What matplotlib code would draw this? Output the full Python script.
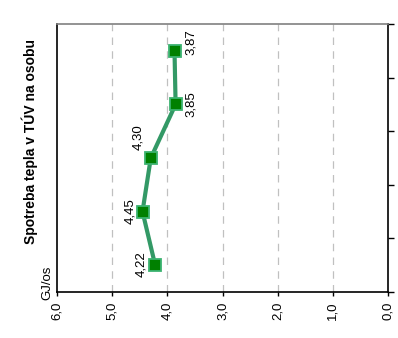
import numpy as np
import matplotlib
matplotlib.use('Agg')
import matplotlib.pyplot as plt

plt.rcParams['font.family'] = ['Liberation Sans', 'DejaVu Sans']

# data (bottom to top)
values = [4.22, 4.45, 4.30, 3.85, 3.87]
value_labels = ['4,22', '4,45', '4,30', '3,85', '3,87']
x_ticks = [0, 1, 2, 3, 4, 5, 6]
x_ticklabels = ['0,0', '1,0', '2,0', '3,0', '4,0', '5,0', '6,0']

pos = np.arange(len(values))

fig = plt.figure(figsize=(3.98, 3.38), dpi=100)
ax = fig.add_axes([57/398, 46/338, 331/398, 268/338])

ax.plot(values, pos, color='#339966', linewidth=3, marker='s', markersize=8.5,
        markerfacecolor='#008000', markeredgecolor='#3cb371', markeredgewidth=1.3, zorder=3)

# label offsets (points)
offsets = [(-10, 1), (-9, 0), (-9, 15), (11, 0), (12, 6)]
for v, p, lab, off in zip(values, pos, value_labels, offsets):
    ax.annotate(lab, xy=(v, p), xytext=off, textcoords='offset points',
                rotation=90, ha='center', va='center', fontsize=9.5)

ax.set_xlim(6, 0)
ax.set_ylim(-0.5, len(values) - 0.5)
ax.set_xticks(x_ticks)
ax.set_xticklabels(x_ticklabels, rotation=90, fontsize=9.5)
ax.tick_params(axis='x', direction='out', length=3, width=1, pad=4)

ax.yaxis.tick_right()
ax.set_yticks(np.arange(-0.5, len(values), 1.0))
ax.set_yticklabels([])
ax.tick_params(axis='y', direction='out', length=4, width=1)

for x in [1, 2, 3, 4, 5]:
    ax.axvline(x, color='#c0c0c0', linestyle=(0, (6, 5)), linewidth=0.9, zorder=1)

ax.spines['top'].set_color('#808080')
ax.spines['bottom'].set_color('black')
ax.spines['right'].set_color('black')
ax.spines['left'].set_color('black')
for s in ax.spines.values():
    s.set_linewidth(1.2)

fig.text(30/398, 1 - 142/338, 'Spotreba tepla v TÚV na osobu', rotation=90,
         ha='center', va='center', fontsize=10, fontweight='bold')
fig.text(47/398, 1 - 283/338, 'GJ/os', rotation=90, ha='center', va='center', fontsize=9.5)

fig.savefig('out.png', dpi=100)
